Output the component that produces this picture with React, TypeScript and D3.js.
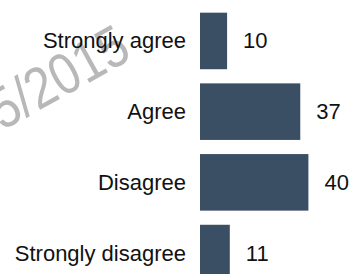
import React from "react";
import * as d3 from "d3";

const categories = ["Strongly agree", "Agree", "Disagree", "Strongly disagree"];
const values = [10, 37, 40, 11];
const watermark = "5/2015";

const W = 352;
const H = 274;

export default function App() {
  const x = d3.scaleLinear().domain([0, 40]).range([200, 308.4]);
  const y = d3
    .scaleBand<string>()
    .domain(categories)
    .range([5.6, 288.4])
    .paddingInner(0.2)
    .paddingOuter(0.1);
  const font = "'Liberation Sans', Arial, sans-serif";
  return (
    <svg
      width={W}
      height={H}
      style={{ position: "fixed", left: 0, top: 0, background: "#fff" }}
      fontFamily={font}
    >
      <text
        x={0}
        y={0}
        transform="translate(2,131) rotate(-29) scale(0.85,1)"
        fontSize={58}
        fill="#b8b8b8"
        fontFamily="'Liberation Sans', Arial, sans-serif"
      >
        {watermark}
      </text>
      {categories.map((c, i) => {
        const yy = y(c)!;
        const bw = y.bandwidth();
        return (
          <g key={c}>
            <rect
              x={x(0)}
              y={yy}
              width={x(values[i]) - x(0)}
              height={bw}
              fill="#3a4f63"
            />
            <text
              x={186}
              y={yy + bw / 2}
              textAnchor="end"
              dominantBaseline="central"
              fontSize={22}
              fill="#111"
            >
              {c}
            </text>
            <text
              x={x(values[i]) + 16}
              y={yy + bw / 2}
              dominantBaseline="central"
              fontSize={22}
              fill="#111"
            >
              {values[i]}
            </text>
          </g>
        );
      })}
    </svg>
  );
}
